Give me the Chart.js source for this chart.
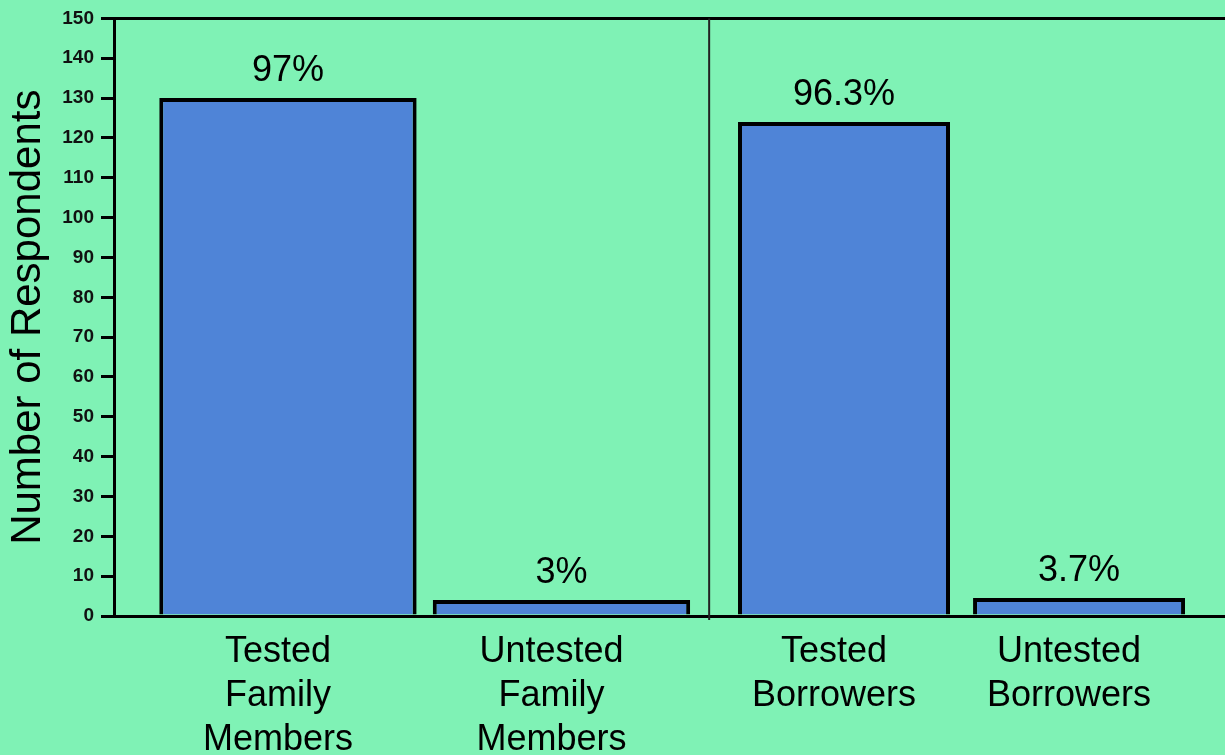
<!DOCTYPE html>
<html>
<head>
<meta charset="utf-8">
<title>Number of Respondents</title>
<script src="https://cdn.jsdelivr.net/npm/chart.js@4"></script>
<style>
    html, body { margin: 0; padding: 0; background: #7ff2b5; }
    canvas { display: block; }
</style>
</head>
<body>
<canvas id="respChart" width="1225" height="755"></canvas>
<script>
// Survey counts
const familyLabels = [['Tested', 'Family', 'Members'], ['Untested', 'Family', 'Members']];
const borrowerLabels = [['Tested', 'Borrowers'], ['Untested', 'Borrowers']];
const familyCounts = [130, 4];
const borrowerCounts = [124, 4.5];
const familyPercents = ['97%', '3%'];
const borrowerPercents = ['96.3%', '3.7%'];
const yMin = 0, yMax = 150, yStep = 10;

const FONT = "'Liberation Sans', Arial, sans-serif";
const BAR_COLOR = '#4f84d7';

// family bars go on 'x', borrower bars on 'xb' (category slots 0-1 and 2-3)
const familyData = familyCounts.map((v, i) => ({ x: i, y: v }));
const borrowerData = borrowerCounts.map((v, i) => ({ x: familyCounts.length + i, y: v }));

function fixTicks(values) {
    return function (scale) {
        scale.ticks = values.map(v => ({ value: v }));
    };
}

// percentages above bars, category names below, and the divider line
const barText = {
    id: 'barText',
    afterDraw(chart) {
        const ctx = chart.ctx;
        const area = chart.chartArea;
        const groups = [
            { labels: familyLabels, percents: familyPercents },
            { labels: borrowerLabels, percents: borrowerPercents }
        ];
        ctx.save();

        // divider between the two groups
        const xd = chart.scales.x.getPixelForValue(1.54);
        ctx.strokeStyle = '#222';
        ctx.lineWidth = 2;
        ctx.beginPath();
        ctx.moveTo(xd, area.top);
        ctx.lineTo(xd, area.bottom + 4);
        ctx.stroke();

        ctx.fillStyle = '#000';
        ctx.textAlign = 'center';
        ctx.textBaseline = 'alphabetic';
        ctx.font = '36px ' + FONT;
        groups.forEach((g, d) => {
            chart.getDatasetMeta(d).data.forEach((bar, i) => {
                ctx.fillText(g.percents[i], bar.x, bar.y - 17);
                g.labels[i].forEach((line, k) => {
                    ctx.fillText(line, bar.x - 10, area.bottom + 46 + k * 44);
                });
            });
        });
        ctx.restore();
    }
};

const ctx = document.getElementById('respChart').getContext('2d');
const respChart = new Chart(ctx, {
    type: 'bar',
    data: {
        datasets: [{
            label: 'Family Members',
            data: familyData,
            xAxisID: 'x',
            grouped: false,
            backgroundColor: BAR_COLOR,
            borderColor: '#000',
            borderWidth: 4,
            categoryPercentage: 1,
            barPercentage: 0.941
        }, {
            label: 'Borrowers',
            data: borrowerData,
            xAxisID: 'xb',
            grouped: false,
            backgroundColor: BAR_COLOR,
            borderColor: '#000',
            borderWidth: 4,
            categoryPercentage: 1,
            barPercentage: 0.902
        }]
    },
    options: {
        responsive: false,
        animation: false,
        devicePixelRatio: 1,
        layout: { padding: { top: 17, right: 0, bottom: 0, left: 0 } },
        plugins: {
            legend: { display: false },
            tooltip: { enabled: false }
        },
        scales: {
            x: {
                type: 'linear',
                position: 'bottom',
                offset: false,
                min: -0.636,
                max: 3.426,
                afterBuildTicks: fixTicks([0, 1]),
                afterFit(scale) { scale.height = 139; },
                ticks: { display: false },
                grid: { display: false, drawTicks: false },
                border: { display: true, color: '#000', width: 3 }
            },
            xb: {
                type: 'linear',
                position: 'bottom',
                display: false,
                offset: false,
                min: -1.106,
                max: 3.621,
                afterBuildTicks: fixTicks([2, 3])
            },
            y: {
                min: yMin,
                max: yMax,
                afterFit(scale) { scale.width = 114; },
                ticks: {
                    stepSize: yStep,
                    padding: 7,
                    color: '#111',
                    font: { family: FONT, size: 19, weight: 'bold' }
                },
                grid: {
                    drawOnChartArea: true,
                    // only the top line (150) is drawn across the plot
                    color: c => c.tick && c.tick.value === yMax ? '#000' : 'rgba(0,0,0,0)',
                    lineWidth: 3,
                    tickColor: '#000',
                    tickWidth: 3,
                    tickLength: 13
                },
                border: { display: true, color: '#000', width: 3 },
                title: {
                    display: true,
                    text: 'Number of Respondents',
                    color: '#000',
                    font: { family: FONT, size: 42 },
                    padding: { top: 3, bottom: 0 }
                }
            }
        }
    },
    plugins: [barText]
});
</script>
</body>
</html>
